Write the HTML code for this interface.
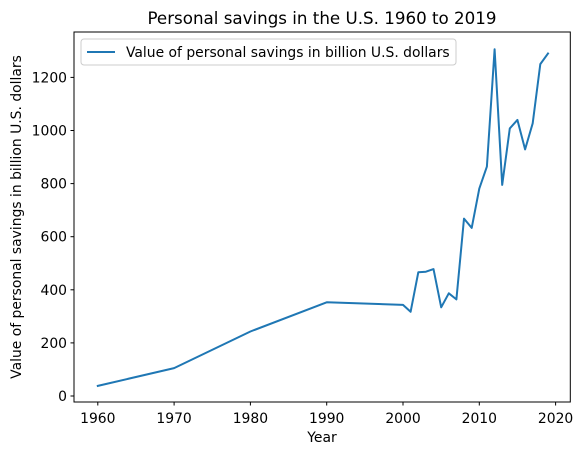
<!DOCTYPE html>
<html><head><meta charset="utf-8"><style>
body{margin:0;background:#fff;}
svg{display:block;font-family:"DejaVu Sans","Liberation Sans",sans-serif;}
</style></head><body>
<svg id="chart" width="582" height="455" viewBox="0 0 582 455">
<rect x="0" y="0" width="582" height="455" fill="#fff"/>
<text x="322" y="24" font-size="16.7" text-anchor="middle" fill="#000">Personal savings in the U.S. 1960 to 2019</text>
<g id="yticks"></g>
<g id="xticks"></g>
<path id="line" fill="none" stroke="#1f77b4" stroke-width="2" stroke-linejoin="round" stroke-linecap="square"/>
<rect x="74" y="32" width="496.3" height="370" fill="none" stroke="#000" stroke-width="1"/>
<text x="322" y="442" font-size="13.9" text-anchor="middle">Year</text>
<text transform="translate(21,217) rotate(-90)" font-size="13.9" text-anchor="middle">Value of personal savings in billion U.S. dollars</text>
<g>
<rect x="81" y="39" width="375" height="26" rx="3" fill="#fff" fill-opacity="0.8" stroke="#ccc"/>
<line x1="87" y1="52" x2="115" y2="52" stroke="#1f77b4" stroke-width="2"/>
<text x="126" y="57" font-size="13.9">Value of personal savings in billion U.S. dollars</text>
</g>
</svg>
<script>
const years=[1960,1970,1980,1990,2000,2001,2002,2003,2004,2005,2006,2007,2008,2009,2010,2011,2012,2013,2014,2015,2016,2017,2018,2019];
const savings=[38,105,243,353,343,317,466,468,478,334,387,364,668,633,781,864,1306,795,1008,1040,929,1027,1250,1290];
const xTicks=[1960,1970,1980,1990,2000,2010,2020];
const yTicks=[0,200,400,600,800,1000,1200];
const NS="http://www.w3.org/2000/svg";
const xs=v=>97.8+(v-1960)*7.63;
const ys=v=>396-v*0.2655;
const svg=document.getElementById('chart');
const line=document.getElementById('line');
line.setAttribute('d',years.map((y,i)=>(i?'L':'M')+xs(y).toFixed(1)+','+ys(savings[i]).toFixed(1)).join(''));
const xg=document.getElementById('xticks'),yg=document.getElementById('yticks');
xTicks.forEach(t=>{
 const l=document.createElementNS(NS,'line');
 l.setAttribute('x1',xs(t));l.setAttribute('x2',xs(t));l.setAttribute('y1',402);l.setAttribute('y2',405.5);l.setAttribute('stroke','#000');
 
 
 xg.appendChild(l);
 const tx=document.createElementNS(NS,'text');
 tx.setAttribute('x',xs(t));tx.setAttribute('y',423);tx.setAttribute('font-size','13.9');tx.setAttribute('text-anchor','middle');
 tx.textContent=t;
 
 
 xg.appendChild(tx);
});
yTicks.forEach(t=>{
 const l=document.createElementNS(NS,'line');
 l.setAttribute('x1',70.5);l.setAttribute('x2',74);l.setAttribute('y1',ys(t));l.setAttribute('y2',ys(t));l.setAttribute('stroke','#000');
 
 
 yg.appendChild(l);
 const tx=document.createElementNS(NS,'text');
 tx.setAttribute('x',67);tx.setAttribute('y',ys(t)+5);tx.setAttribute('font-size','13.9');tx.setAttribute('text-anchor','end');
 tx.textContent=t;
 
 
 yg.appendChild(tx);
});
</script>
</body></html>
